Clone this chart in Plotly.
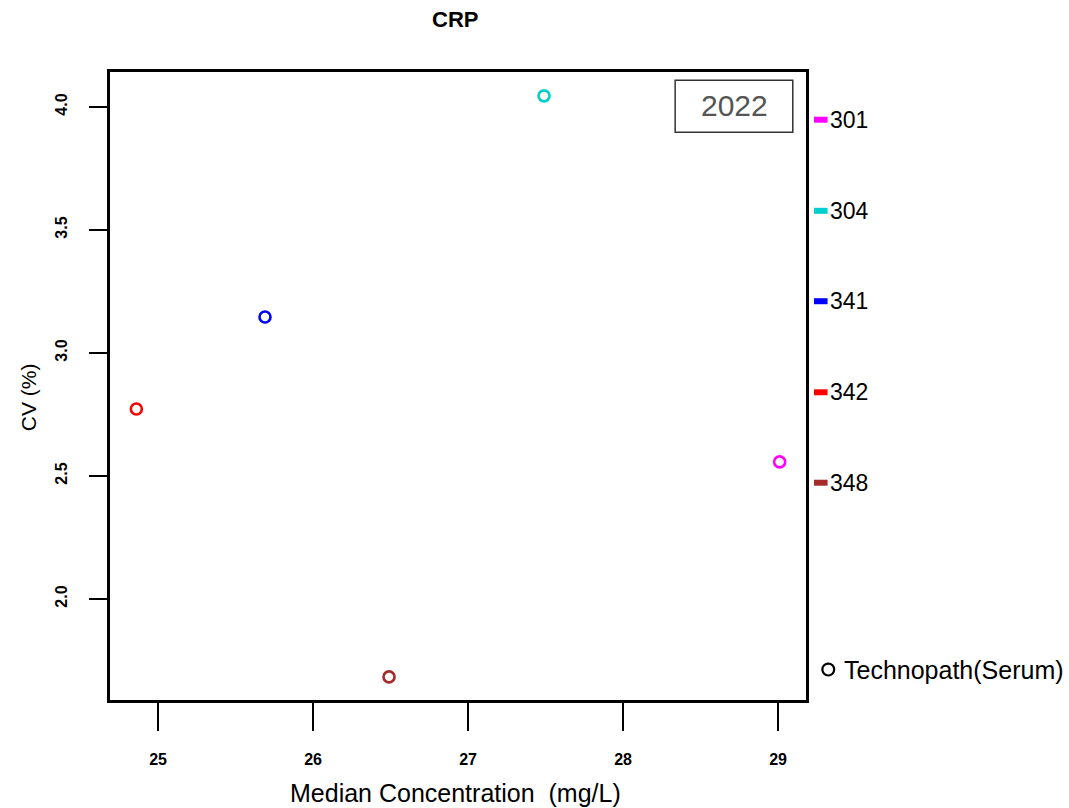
import plotly.graph_objects as go

# CRP precision by lab: median concentration vs CV
labs = ["301", "304", "341", "342", "348"]
median_conc = [29.01, 27.49, 25.69, 24.86, 26.49]
cv_pct = [2.557, 4.045, 3.146, 2.772, 1.683]
lab_colors = ["#FF00FF", "#00CDCD", "#0000FF", "#FF0000", "#A52A2A"]

x_ticks = [25, 26, 27, 28, 29]
y_ticks = [2.0, 2.5, 3.0, 3.5, 4.0]
year_label = "2022"
material = "Technopath(Serum)"

FONT = "Liberation Sans, Arial, Helvetica, sans-serif"

fig = go.Figure()
for lab, x, y, c in zip(labs, median_conc, cv_pct, lab_colors):
    fig.add_trace(go.Scatter(
        x=[x], y=[y], mode="markers", name=lab, showlegend=False,
        marker=dict(symbol="circle-open", size=11, color=c, line=dict(width=2.6, color=c)),
    ))

fig.update_layout(
    width=1069, height=808,
    margin=dict(l=110, r=263, t=72, b=108),
    paper_bgcolor="white", plot_bgcolor="white",
    font=dict(family=FONT, color="black"),
    xaxis=dict(
        range=[24.69, 29.18], tickvals=x_ticks, ticktext=[str(v) for v in x_ticks],
        showgrid=False, zeroline=False, showline=True, mirror=True,
        linecolor="black", linewidth=2.5,
        ticks="outside", ticklen=28, tickwidth=2, tickcolor="black",
        tickfont=dict(size=16, weight="bold", family=FONT),
        ticklabelstandoff=15,
    ),
    yaxis=dict(
        range=[1.589, 4.142], tickvals=y_ticks, ticktext=[f"{v:.1f}" for v in y_ticks],
        showgrid=False, zeroline=False, showline=True, mirror=True,
        linecolor="black", linewidth=2.5,
        ticks="outside", ticklen=18, tickwidth=2, tickcolor="black",
        tickangle=-90,
        tickfont=dict(size=16, weight="bold", family=FONT),
        ticklabelstandoff=16,
    ),
)

ann = []
# Title and axis titles
ann.append(dict(text="<b>CRP</b>", x=0.4957, y=1.083, xref="paper", yref="paper",
                showarrow=False, font=dict(size=22, family=FONT), xanchor="center", yanchor="middle"))
ann.append(dict(text="Median Concentration  (mg/L)", x=0.496, y=-0.148, xref="paper", yref="paper",
                showarrow=False, font=dict(size=25, family=FONT), xanchor="center", yanchor="middle"))
ann.append(dict(text="CV (%)", x=-0.118, y=0.482, xref="paper", yref="paper", textangle=-90,
                showarrow=False, font=dict(size=21, family=FONT), xanchor="center", yanchor="middle"))

# Year box inside the plot
ann.append(dict(text=year_label, x=0.8966, y=0.946, xref="paper", yref="paper",
                showarrow=False, font=dict(size=30, family=FONT, color="#555555"),
                xanchor="center", yanchor="middle"))
shapes = [dict(type="rect", xref="paper", yref="paper", x0=0.812, x1=0.981, y0=0.904, y1=0.987,
               line=dict(color="#333333", width=1.5), fillcolor="rgba(0,0,0,0)")]

# Lab legend on the right
legend_y = [0.924, 0.779, 0.635, 0.490, 0.346]
for lab, c, ly in zip(labs, lab_colors, legend_y):
    shapes.append(dict(type="line", xref="paper", yref="paper", x0=1.0115, x1=1.031, y0=ly, y1=ly,
                       line=dict(color=c, width=6)))
    ann.append(dict(text=lab, x=1.031, y=ly, xref="paper", yref="paper", showarrow=False,
                    font=dict(size=23, family=FONT), xanchor="left", yanchor="middle"))

# Material legend entry
shapes.append(dict(type="circle", xref="paper", yref="paper",
                   x0=1.0235, x1=1.0405, y0=0.039, y1=0.058,
                   line=dict(color="black", width=2.2)))
ann.append(dict(text=material, x=1.052, y=0.048, xref="paper", yref="paper", showarrow=False,
                font=dict(size=25, family=FONT), xanchor="left", yanchor="middle"))

fig.update_layout(annotations=ann, shapes=shapes)
fig.write_html("out.html")
